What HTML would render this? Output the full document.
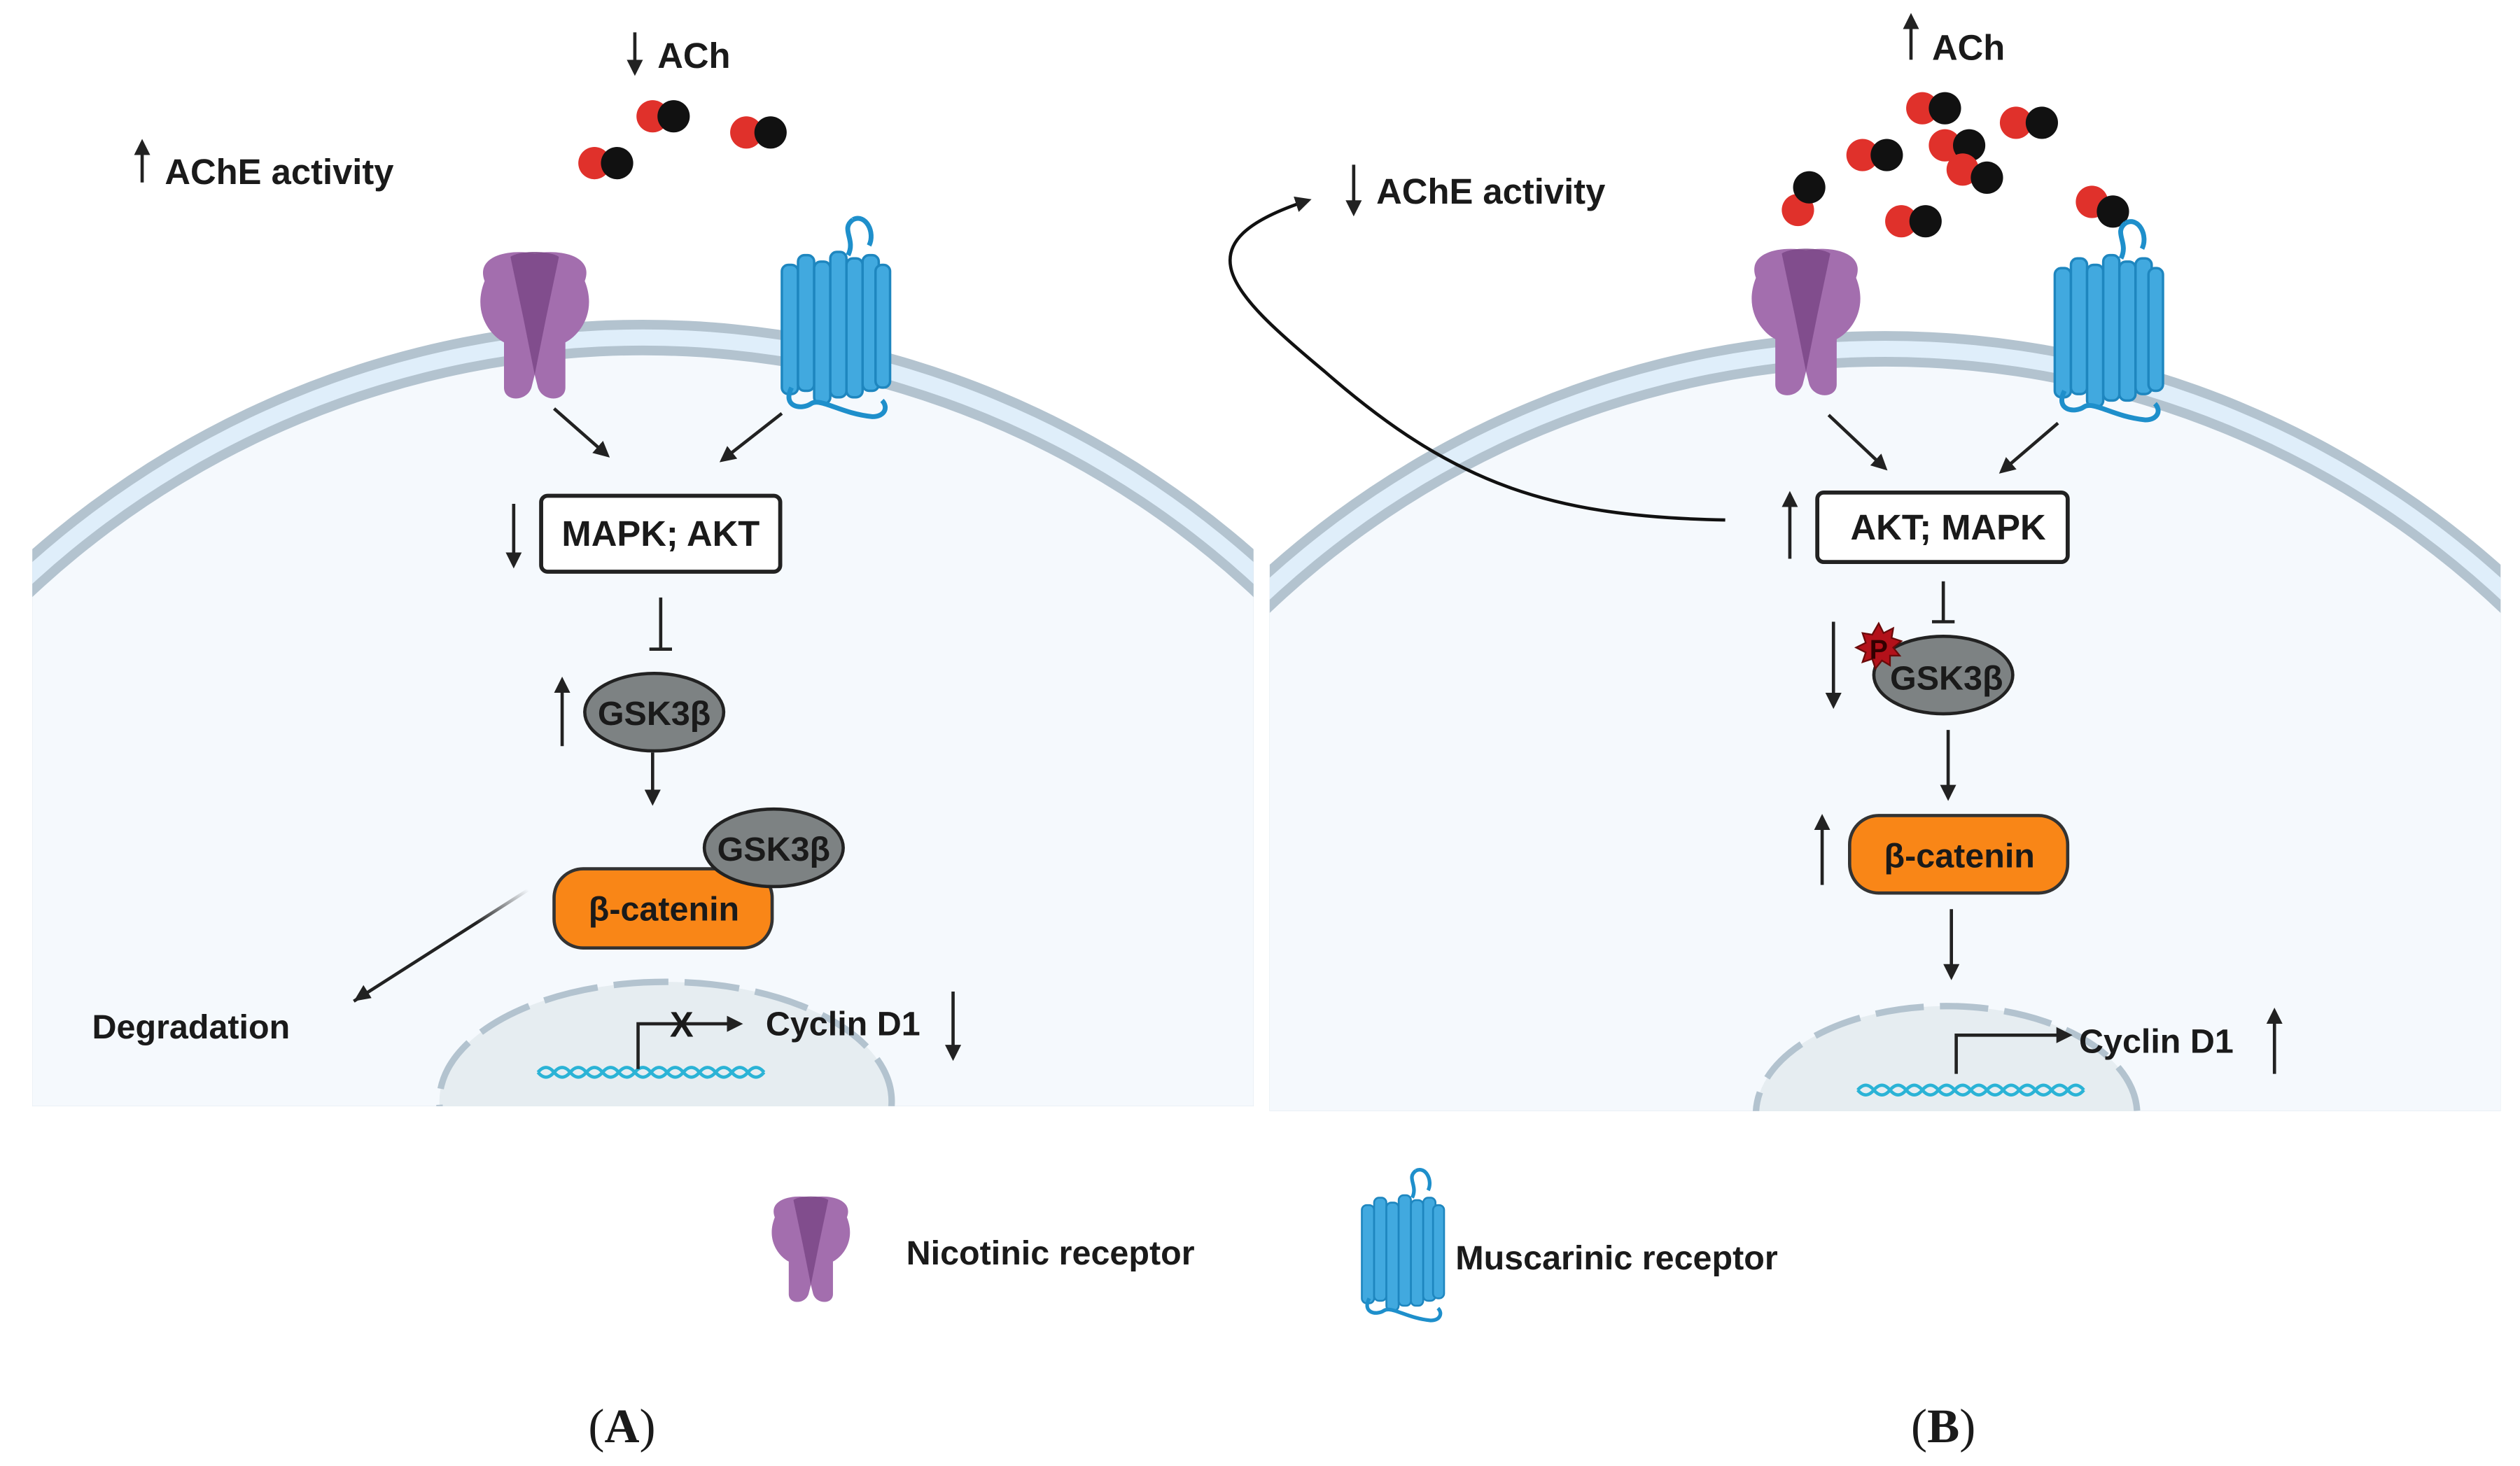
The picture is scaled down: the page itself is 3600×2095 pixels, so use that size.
<!DOCTYPE html>
<html><head><meta charset="utf-8">
<style>
html,body{margin:0;padding:0;background:#fff;width:3600px;height:2095px;overflow:hidden;}
svg{display:block;position:absolute;left:0;top:0;}
text{font-family:"Liberation Sans",sans-serif;font-weight:bold;fill:#1a1a1a;}
</style></head>
<body>
<svg width="3600" height="2095" viewBox="0 0 1560 907.8" xmlns="http://www.w3.org/2000/svg">
<defs>
  <marker id="ah" viewBox="0 0 10 10" refX="8" refY="5" markerWidth="5" markerHeight="5" orient="auto-start-reverse">
    <path d="M0,0 L10,5 L0,10 z" fill="#222"/>
  </marker>
  <clipPath id="cA"><rect x="20" y="0" width="756" height="685"/></clipPath>
  <clipPath id="cB"><rect x="786" y="0" width="762" height="688"/></clipPath>
  <linearGradient id="fade" x1="1" y1="0" x2="0" y2="1">
    <stop offset="0" stop-color="#222" stop-opacity="0"/>
    <stop offset="0.3" stop-color="#222" stop-opacity="1"/>
  </linearGradient>
  <g id="nic">
    <path d="M12,22 C6,6 28,2 43,5 C58,2 80,6 74,22 C82,42 70,56 62,60 L62,88 C62,97 48,97 45,88 L43,80 L41,88 C38,97 24,97 24,88 L24,60 C16,56 4,42 12,22 Z" fill="#a36eae"/>
    <path d="M28,7 C34,3 52,3 58,7 L50,45 L43,80 L36,45 Z" fill="#7b4887" opacity="0.85"/>
  </g>
  <g id="mus">
    <path d="M45,18 C50,8 40,2 48,-4 M48,-4 C56,-8 62,4 58,12" stroke="#1e8fcb" stroke-width="3" fill="none"/>
    <g fill="#41a9df" stroke="#1e86bf" stroke-width="1.5">
      <rect x="4" y="24" width="10" height="80" rx="4"/>
      <rect x="14" y="18" width="10" height="84" rx="4"/>
      <rect x="24" y="22" width="10" height="88" rx="4"/>
      <rect x="34" y="16" width="10" height="90" rx="4"/>
      <rect x="44" y="20" width="10" height="86" rx="4"/>
      <rect x="54" y="18" width="10" height="84" rx="4"/>
      <rect x="62" y="24" width="9" height="76" rx="4"/>
    </g>
    <path d="M10,100 C4,112 16,114 22,110 C28,106 40,116 60,118 C68,118 70,112 66,108" stroke="#1e8fcb" stroke-width="3" fill="none"/>
  </g>
  <g id="dna">
    <path d="M0,0 q5,-6 10,0 t10,0 t10,0 t10,0 t10,0 t10,0 t10,0 t10,0 t10,0 t10,0 t10,0 t10,0 t10,0 t10,0" stroke="#2bb3d6" stroke-width="2" fill="none"/>
    <path d="M0,0 q5,6 10,0 t10,0 t10,0 t10,0 t10,0 t10,0 t10,0 t10,0 t10,0 t10,0 t10,0 t10,0 t10,0 t10,0" stroke="#2bb3d6" stroke-width="2" fill="none"/>
  </g>
</defs>

<g clip-path="url(#cA)">
  <rect x="20" y="0" width="756" height="685" fill="#fff"/>
  <circle cx="398" cy="772" r="574" fill="#b3c3cf"/>
  <circle cx="398" cy="772" r="568" fill="#dfeefa"/>
  <circle cx="398" cy="772" r="558" fill="#b3c3cf"/>
  <circle cx="398" cy="772" r="552" fill="#f5f9fd"/>
  <ellipse cx="412" cy="682" rx="140" ry="74" fill="#e6edf1" stroke="#b3c3cf" stroke-width="4" stroke-dasharray="34 10"/>
</g>
<g clip-path="url(#cB)">
  <rect x="786" y="0" width="762" height="688" fill="#fff"/>
  <circle cx="1167" cy="779" r="574" fill="#b3c3cf"/>
  <circle cx="1167" cy="779" r="568" fill="#dfeefa"/>
  <circle cx="1167" cy="779" r="558" fill="#b3c3cf"/>
  <circle cx="1167" cy="779" r="552" fill="#f5f9fd"/>
  <ellipse cx="1205" cy="690" rx="118" ry="67" fill="#e6edf1" stroke="#b3c3cf" stroke-width="4" stroke-dasharray="30 10"/>
</g>

<line x1="393" y1="20" x2="393" y2="45" stroke="#222" stroke-width="2" marker-end="url(#ah)"/>
<text x="407" y="42" font-size="22">ACh</text>
<line x1="88" y1="113" x2="88" y2="88" stroke="#222" stroke-width="2" marker-end="url(#ah)"/>
<text x="102" y="114" font-size="22">AChE activity</text>

<circle cx="404" cy="72" r="10" fill="#e0312b"/><circle cx="417" cy="72" r="10" fill="#111"/>
<circle cx="462" cy="82" r="10" fill="#e0312b"/><circle cx="477" cy="82" r="10" fill="#111"/>
<circle cx="368" cy="101" r="10" fill="#e0312b"/><circle cx="382" cy="101" r="10" fill="#111"/>

<use href="#nic" x="288" y="152"/>
<use href="#mus" x="480" y="140"/>

<line x1="343" y1="253" x2="376" y2="282" stroke="#222" stroke-width="2" marker-end="url(#ah)"/>
<line x1="484" y1="256" x2="447" y2="285" stroke="#222" stroke-width="2" marker-end="url(#ah)"/>

<rect x="335" y="307" width="148" height="47" rx="4" fill="#fff" stroke="#222" stroke-width="2.5"/>
<text x="409" y="338" font-size="22" text-anchor="middle">MAPK; AKT</text>
<line x1="318" y1="312" x2="318" y2="350" stroke="#222" stroke-width="2" marker-end="url(#ah)"/>

<line x1="409" y1="370" x2="409" y2="402" stroke="#222" stroke-width="2"/>
<line x1="402" y1="402" x2="416" y2="402" stroke="#222" stroke-width="2"/>

<line x1="348" y1="462" x2="348" y2="421" stroke="#222" stroke-width="2" marker-end="url(#ah)"/>
<ellipse cx="405" cy="441" rx="43" ry="24" fill="#7d8283" stroke="#222" stroke-width="2"/>
<text x="405" y="449" font-size="21" text-anchor="middle">GSK3β</text>

<line x1="404" y1="466" x2="404" y2="497" stroke="#222" stroke-width="2" marker-end="url(#ah)"/>

<rect x="343" y="538" width="135" height="49" rx="18" fill="#f98617" stroke="#333" stroke-width="2"/>
<text x="411" y="570" font-size="21" text-anchor="middle">β-catenin</text>
<ellipse cx="479" cy="525" rx="43" ry="24" fill="#7d8283" stroke="#222" stroke-width="2"/>
<text x="479" y="533" font-size="21" text-anchor="middle">GSK3β</text>

<line x1="327" y1="551" x2="219" y2="620" stroke="url(#fade)" stroke-width="2"/>
<path d="M219,620 l11,-2 l-5,-8 z" fill="#222"/>
<text x="57" y="643" font-size="21">Degradation</text>

<use href="#dna" x="333" y="664"/>
<polyline points="395,662 395,634 458,634" fill="none" stroke="#222" stroke-width="2" marker-end="url(#ah)"/>
<text x="422" y="642" font-size="22" text-anchor="middle">X</text>
<text x="474" y="641" font-size="21">Cyclin D1</text>
<line x1="590" y1="614" x2="590" y2="655" stroke="#222" stroke-width="2" marker-end="url(#ah)"/>

<line x1="1183" y1="37" x2="1183" y2="10" stroke="#222" stroke-width="2" marker-end="url(#ah)"/>
<text x="1196" y="37" font-size="22">ACh</text>
<line x1="838" y1="102" x2="838" y2="132" stroke="#222" stroke-width="2" marker-end="url(#ah)"/>
<text x="852" y="126" font-size="22">AChE activity</text>

<path d="M1068,322 C960,320 900,300 820,230 C760,180 730,150 810,124" fill="none" stroke="#111" stroke-width="2" marker-end="url(#ah)"/>

<circle cx="1190" cy="67" r="10" fill="#e0312b"/><circle cx="1204" cy="67" r="10" fill="#111"/>
<circle cx="1248" cy="76" r="10" fill="#e0312b"/><circle cx="1264" cy="76" r="10" fill="#111"/>
<circle cx="1153" cy="96" r="10" fill="#e0312b"/><circle cx="1168" cy="96" r="10" fill="#111"/>
<circle cx="1204" cy="90" r="10" fill="#e0312b"/><circle cx="1219" cy="90" r="10" fill="#111"/>
<circle cx="1215" cy="105" r="10" fill="#e0312b"/><circle cx="1230" cy="110" r="10" fill="#111"/>
<circle cx="1113" cy="130" r="10" fill="#e0312b"/><circle cx="1120" cy="116" r="10" fill="#111"/>
<circle cx="1177" cy="137" r="10" fill="#e0312b"/><circle cx="1192" cy="137" r="10" fill="#111"/>
<circle cx="1295" cy="125" r="10" fill="#e0312b"/><circle cx="1308" cy="131" r="10" fill="#111"/>

<use href="#nic" x="1075" y="150"/>
<use href="#mus" x="1268" y="142"/>

<line x1="1132" y1="257" x2="1167" y2="290" stroke="#222" stroke-width="2" marker-end="url(#ah)"/>
<line x1="1274" y1="262" x2="1239" y2="292" stroke="#222" stroke-width="2" marker-end="url(#ah)"/>

<rect x="1125" y="305" width="155" height="43" rx="4" fill="#fff" stroke="#222" stroke-width="2.5"/>
<text x="1206" y="334" font-size="22" text-anchor="middle">AKT; MAPK</text>
<line x1="1108" y1="346" x2="1108" y2="306" stroke="#222" stroke-width="2" marker-end="url(#ah)"/>

<line x1="1203" y1="360" x2="1203" y2="385" stroke="#222" stroke-width="2"/>
<line x1="1196" y1="385" x2="1210" y2="385" stroke="#222" stroke-width="2"/>

<line x1="1135" y1="385" x2="1135" y2="437" stroke="#222" stroke-width="2" marker-end="url(#ah)"/>
<ellipse cx="1203" cy="418" rx="43" ry="24" fill="#7d8283" stroke="#222" stroke-width="2"/>
<text x="1205" y="427" font-size="21" text-anchor="middle">GSK3β</text>
<polygon points="1163,386 1166,392 1172,389 1171,395 1177,397 1172,401 1176,406 1170,406 1170,412 1165,409 1161,414 1159,408 1153,410 1155,404 1149,401 1155,398 1153,392 1159,393" fill="#b3111a" stroke="#6a0a0a" stroke-width="1"/>
<text x="1163" y="408" font-size="17" text-anchor="middle" style="fill:#300">P</text>

<line x1="1206" y1="452" x2="1206" y2="494" stroke="#222" stroke-width="2" marker-end="url(#ah)"/>

<line x1="1128" y1="548" x2="1128" y2="506" stroke="#222" stroke-width="2" marker-end="url(#ah)"/>
<rect x="1145" y="505" width="135" height="48" rx="18" fill="#f98617" stroke="#333" stroke-width="2"/>
<text x="1213" y="537" font-size="21" text-anchor="middle">β-catenin</text>

<line x1="1208" y1="563" x2="1208" y2="605" stroke="#222" stroke-width="2" marker-end="url(#ah)"/>

<use href="#dna" x="1150" y="675"/>
<polyline points="1211,665 1211,641 1281,641" fill="none" stroke="#222" stroke-width="2" marker-end="url(#ah)"/>
<text x="1287" y="652" font-size="21">Cyclin D1</text>
<line x1="1408" y1="665" x2="1408" y2="626" stroke="#222" stroke-width="2" marker-end="url(#ah)"/>

<g transform="translate(471 738) scale(0.72)"><use href="#nic"/></g>
<text x="561" y="783" font-size="21">Nicotinic receptor</text>
<g transform="translate(840 728) scale(0.76)"><use href="#mus"/></g>
<text x="901" y="786" font-size="21">Muscarinic receptor</text>

<text x="385" y="893" font-size="30" text-anchor="middle" style="font-family:'Liberation Serif',serif;font-weight:normal">(<tspan font-weight="bold">A</tspan>)</text>
<text x="1203" y="893" font-size="30" text-anchor="middle" style="font-family:'Liberation Serif',serif;font-weight:normal">(<tspan font-weight="bold">B</tspan>)</text>
</svg>
</body></html>
